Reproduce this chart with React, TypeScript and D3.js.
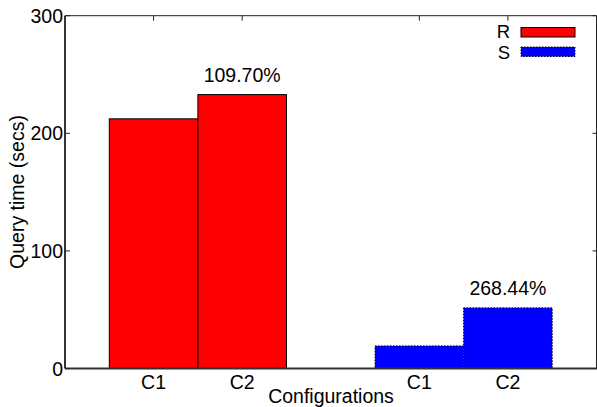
import React from "react";
import * as d3 from "d3";

const groups = ["R", "S"];
const configs = ["C1", "C2"];
const rValues = [212.3, 232.9];
const sValues = [19.2, 51.6];
const annotations = ["109.70%", "268.44%"];
const yTicks = [0, 100, 200, 300];
const colors = ["#ff0000", "#0000ff"];

const W = 597;
const H = 407;
const M = { left: 65, right: 596.5, top: 15.7, bottom: 368.5 };
const FONT = "'Liberation Sans', Arial, sans-serif";
const FS = 19.5;

export default function App() {
  const series = [rValues, sValues];
  const x = d3.scaleLinear().domain([-0.5, 1.5]).range([M.left, M.right]);
  const y = d3.scaleLinear().domain([0, 300]).range([M.bottom, M.top]);
  const bw = 1 / 3;

  return (
    <svg width={W} height={H} style={{ position: "absolute", left: 0, top: 0 }} fontFamily={FONT}>
      <rect x={0} y={0} width={W} height={H} fill="#fff" />
      {series.map((vals, gi) =>
        vals.map((v, ci) => {
          const x0 = x(gi - bw + ci * bw);
          const x1 = x(gi + ci * bw);
          return (
            <rect
              key={`${gi}-${ci}`}
              x={x0}
              y={y(v)}
              width={x1 - x0}
              height={y(0) - y(v)}
              fill={colors[gi]}
              stroke="#000"
              strokeWidth={1}
              strokeDasharray={gi === 1 ? "1.5,1.5" : undefined}
            />
          );
        })
      )}
      {series.map((vals, gi) => (
        <text
          key={`a${gi}`}
          x={x(gi + bw / 2)}
          y={y(vals[1]) - 13}
          textAnchor="middle"
          fontSize={FS}
        >
          {annotations[gi]}
        </text>
      ))}
      <line x1={M.left} x2={M.right} y1={M.top} y2={M.top} stroke="#222" strokeWidth={1} />
      <line x1={M.right} x2={M.right} y1={M.top} y2={M.bottom} stroke="#222" strokeWidth={1} />
      <line x1={M.left} x2={M.left} y1={M.top} y2={M.bottom} stroke="#333" strokeWidth={2} />
      <line x1={M.left} x2={W} y1={M.bottom} y2={M.bottom} stroke="#333" strokeWidth={2} />
      {yTicks.map((t) => (
        <g key={t}>
          <line x1={M.left} x2={M.left + 5} y1={y(t)} y2={y(t)} stroke="#222" />
          <line x1={M.right - 4} x2={M.right} y1={y(t)} y2={y(t)} stroke="#222" />
          <text x={M.left - 2} y={y(t) + 7} textAnchor="end" fontSize={FS}>
            {t}
          </text>
        </g>
      ))}
      {groups.map((g, gi) =>
        configs.map((c, ci) => {
          const cx = x(gi - bw / 2 + ci * bw);
          return (
            <g key={`${g}${c}`}>
              <line x1={cx} x2={cx} y1={M.top} y2={M.top + 5} stroke="#222" />
              <text x={cx} y={389} textAnchor="middle" fontSize={FS}>
                {c}
              </text>
            </g>
          );
        })
      )}
      <text x={331} y={403} textAnchor="middle" fontSize={FS}>
        Configurations
      </text>
      <text transform={`translate(24,192) rotate(-90)`} textAnchor="middle" fontSize={FS}>
        Query time (secs)
      </text>
      {groups.map((g, gi) => (
        <g key={`l${g}`}>
          <text x={510} y={38 + gi * 20.5} textAnchor="end" fontSize={18.5}>
            {g}
          </text>
          <rect
            x={521}
            y={27.5 + gi * 19.5}
            width={54}
            height={9.5}
            fill={colors[gi]}
            stroke="#000"
            strokeWidth={1}
            strokeDasharray={gi === 1 ? "1.5,1.5" : undefined}
          />
        </g>
      ))}
    </svg>
  );
}
